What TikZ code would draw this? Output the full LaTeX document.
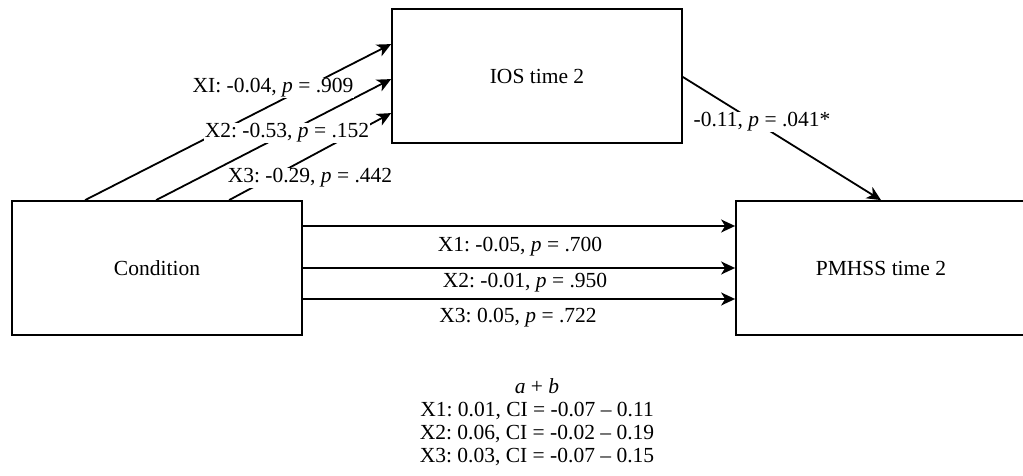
\documentclass[tikz,border=0pt]{standalone}
\usepackage{fontspec}
\setmainfont{Liberation Serif}
\usetikzlibrary{arrows.meta,calc}
\frenchspacing
\tikzset{
  box/.style={draw=black, line width=1.8pt, minimum width=290pt, minimum height=134pt, inner sep=0pt, fill=white},
  conn/.style={draw=black, line width=1.8pt, -{Stealth[length=14pt,width=13pt,inset=4pt]}},
  lbl/.style={fill=white, inner sep=1pt},
}
\begin{document}
\begin{tikzpicture}[x=1pt,y=-1pt,font=\fontsize{21.5}{23}\selectfont]
\useasboundingbox (0,0) rectangle (1023,476);
\clip (0,0) rectangle (1023,476);
\fill[white] (0,0) rectangle (1023,476);
% boxes
\node[box] (cond) at (157,268) {\raisebox{-2pt}{Condition}};
\node[box] (ios) at (537,76) {\raisebox{-3pt}{IOS time 2}};
\node[box] (pm) at (881,268) {\raisebox{-2pt}{PMHSS time 2}};
% diagonal arrows
\draw[conn] ($(cond.north west)+(74,0)$) -- ($(ios.north west)+(0,36)$);
\draw[conn] ($(cond.north west)+(145,0)$) -- ($(ios.north west)+(0,71)$);
\draw[conn] ($(cond.north west)+(218,0)$) -- ($(ios.north west)+(0,105)$);
% horizontal arrows
\draw[conn] ($(cond.east)+(0,-42)$) -- ($(pm.west)+(0,-42)$);
\draw[conn] (cond.east) -- (pm.west);
\draw[conn] ($(cond.east)+(0,31)$) -- ($(pm.west)+(0,31)$);
% mediator to outcome
\draw[conn] ($(ios.east)+(0,1)$) -- (pm.north);
% labels
\node[lbl] (la1) at (273,88) {XI: -0.04, \textit{p} = .909};
\node[lbl] (la2) at (287,133) {X2: -0.53, \textit{p} = .152};
\node[lbl] (la3) at (310,178) {X3: -0.29, \textit{p} = .442};
\node[lbl] (lc1) at (520,247) {X1: -0.05, \textit{p} = .700};
\node[lbl] (lc2) at (525,283) {X2: -0.01, \textit{p} = .950};
\node[lbl] (lc3) at (518,318) {X3: 0.05, \textit{p} = .722};
\node[lbl] (lb) at (762,122) {-0.11, \textit{p} = .041*};
\node[align=center, inner sep=0pt] (ab) at (537,422) {\textit{a} + \textit{b}\\X1: 0.01, CI = -0.07 – 0.11\\X2: 0.06, CI = -0.02 – 0.19\\X3: 0.03, CI = -0.07 – 0.15};
\end{tikzpicture}
\end{document}
